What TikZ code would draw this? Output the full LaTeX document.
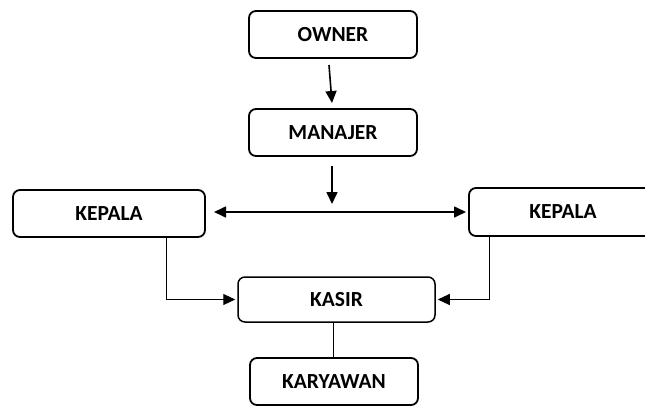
\documentclass[tikz,border=0pt]{standalone}
\usepackage{fontspec}
\setmainfont{Carlito}
\usetikzlibrary{arrows.meta}
\tikzset{
  box/.style={draw=black, line width=1.8pt, rounded corners=7pt, fill=white,
    font=\fontsize{21.5}{24}\selectfont\bfseries, inner sep=0pt},
  arr/.style={line width=1.6pt, -{Triangle[length=12pt,width=11pt]}},
  darr/.style={line width=1.6pt, {Triangle[length=12pt,width=11pt]}-{Triangle[length=12pt,width=11pt]}},
  thin line/.style={line width=1pt},
  elbow/.style={line width=1pt, -{Triangle[length=12pt,width=11pt]}}
}
\begin{document}
\begin{tikzpicture}[x=1pt,y=-1pt]
\useasboundingbox (0,0) rectangle (645,408);
\begin{scope}
\clip (0,0) rectangle (645,408);
\node[box, minimum width=168pt, minimum height=47pt] (owner) at (333,34.5) {OWNER};
\node[box, minimum width=168pt, minimum height=47pt] (manajer) at (333,132.5) {MANAJER};
\node[box, minimum width=192pt, minimum height=47pt] (kepL) at (109,213.5) {KEPALA};
\node[box, minimum width=188pt, minimum height=48pt] (kepR) at (563,212) {KEPALA};
\node[box, line width=1.5pt, minimum width=197pt, minimum height=45pt] (kasir) at (336.5,299.5) {KASIR};
\node[box, minimum width=168pt, minimum height=47pt] (kary) at (334,381.5) {KARYAWAN};

\coordinate (a1) at (329,65);
\coordinate (a2) at (332,103);
\coordinate (b1) at (332,166);
\coordinate (b2) at (332,204);
\coordinate (hl) at (214,212);
\coordinate (hr) at (466,212);

\draw[arr] (a1) -- (a2);
\draw[arr] (b1) -- (b2);
\draw[darr] (hl) -- (hr);
\draw[elbow] (kepL.south -| 166,0) |- ([xshift=-2pt]kasir.west);
\draw[elbow] (kepR.south -| 489,0) |- ([xshift=2pt]kasir.east);
\draw[thin line] (kasir.south -| 333,0) -- (kary.north -| 333,0);
\end{scope}
\end{tikzpicture}
\end{document}
